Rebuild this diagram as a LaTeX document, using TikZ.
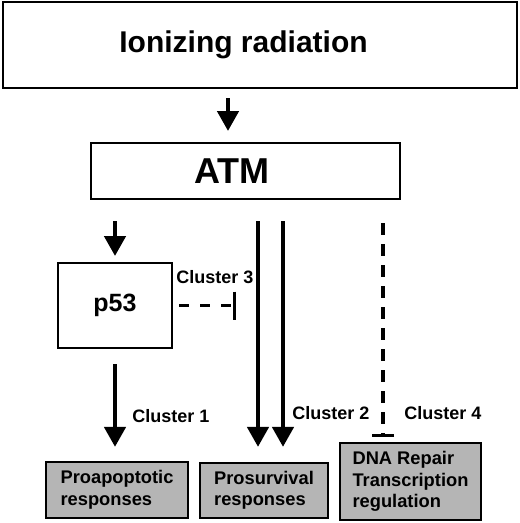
\documentclass[tikz,border=0pt]{standalone}
\usepackage{fontspec}
\setmainfont{Liberation Sans}
\usetikzlibrary{arrows.meta,calc}
\begin{document}
\begin{tikzpicture}[x=1pt,y=-1pt,
  whitebox/.style={draw=black,line width=2pt,fill=white,inner sep=0pt,font=\bfseries},
  graybox/.style={draw=black,line width=2.2pt,fill=black!29,inner sep=0pt,align=left,font=\fontsize{18.3}{21.5}\selectfont\bfseries},
  clab/.style={inner sep=0pt,font=\fontsize{18}{20}\selectfont\bfseries},
  bigarrow/.style={line width=4.5pt,-{Triangle[width=21pt,length=20pt]}},
  inhib/.style={line width=3.2pt,dash pattern=on 12pt off 9pt,-{Bar[width=22pt,line width=3pt]}},
  inhibh/.style={line width=3pt,dash pattern=on 10pt off 11pt,-{Bar[width=28pt,line width=3pt]}}
]
\useasboundingbox (0,0) rectangle (520,523);
\node[whitebox,minimum width=514pt,minimum height=86pt,font=\fontsize{30}{32}\selectfont\bfseries] (ir) at (260,45) {Ionizing radiation\hspace*{33pt}};
\node[whitebox,minimum width=309pt,minimum height=56pt,font=\fontsize{36}{38}\selectfont\bfseries] (atm) at (245.5,171) {ATM\hspace*{27pt}};
\node[whitebox,minimum width=114pt,minimum height=85pt,font=\fontsize{25}{28}\selectfont\bfseries] (p53) at (115,305.5) {p53};
\node[graybox,minimum width=142pt,minimum height=56pt] (pro) at (117,490) {Proapoptotic\\responses};
\node[graybox,minimum width=128pt,minimum height=55pt] (surv) at (264,490.5) {Prosurvival\\responses};
\node[graybox,minimum width=141pt,minimum height=77pt] (dna) at (410.5,481.5) {DNA Repair\\Transcription\\regulation};
\node[clab] (c1) at (171,416) {Cluster 1};
\node[clab] (c2) at (331,413) {Cluster 2};
\node[clab] (c3) at (215,277) {Cluster 3};
\node[clab] (c4) at (443,413) {Cluster 4};
% connectors
\draw[bigarrow] ([xshift=-32pt,yshift=-9pt]ir.south) -- ([xshift=-17.5pt,yshift=11pt]atm.north);
\draw[bigarrow] ([xshift=-130.5pt,yshift=-21pt]atm.south) -- ([yshift=6pt]p53.north);
\draw[bigarrow] ([yshift=-15pt]p53.south) -- ([xshift=-2pt,yshift=14pt]pro.north);
\draw[bigarrow] ([xshift=12.5pt,yshift=-21pt]atm.south) -- ([xshift=-6pt,yshift=15pt]surv.north);
\draw[bigarrow] ([xshift=37.5pt,yshift=-21pt]atm.south) -- ([xshift=19pt,yshift=15pt]surv.north);
\draw[inhib] ([xshift=137.5pt,yshift=-23pt]atm.south) -- ([xshift=-27.5pt,yshift=5pt]dna.north);
\draw[inhibh] ([xshift=6pt]p53.east) -- ([xshift=63pt]p53.east);
\end{tikzpicture}
\end{document}
